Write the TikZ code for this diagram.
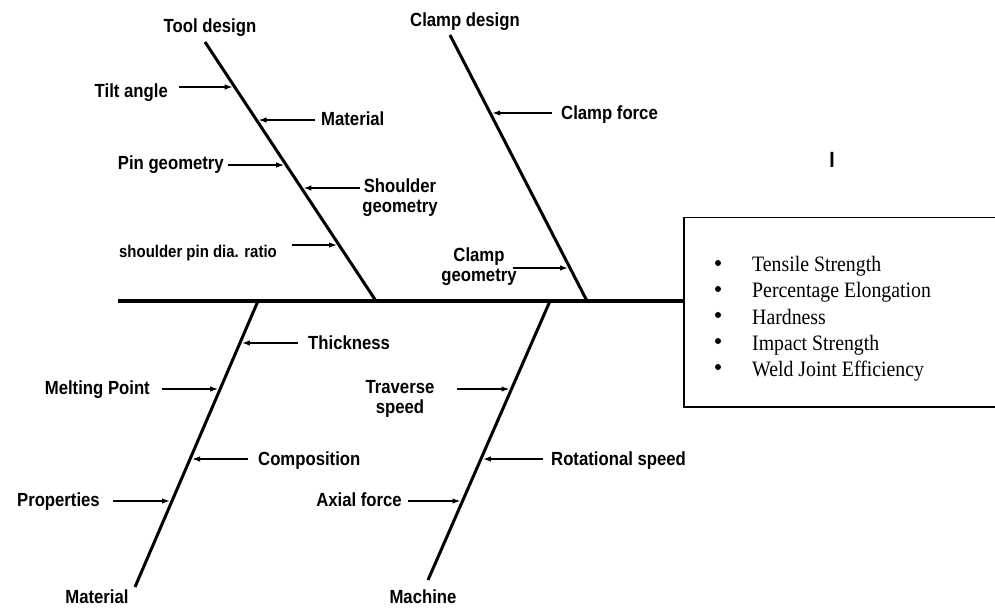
\documentclass[tikz,border=0pt]{standalone}
\usepackage{fontspec}
\usetikzlibrary{arrows.meta}
\newfontfamily\lblfam[FakeStretch=0.88]{Liberation Sans}
\newfontfamily\boxfam[FakeStretch=0.9]{Liberation Serif}
\newcommand\lblfont{\lblfam\bfseries\fontsize{19}{20}\selectfont}
\newcommand\lblsmall{\lblfam\bfseries\fontsize{17}{18}\selectfont}
\newcommand\boxfont{\boxfam\fontsize{22}{26}\selectfont}
\tikzset{
  lbl/.style={font=\lblfont, inner sep=0pt, align=center},
  bone/.style={line width=3pt},
  spine/.style={line width=4pt},
  arr/.style={line width=1.4pt, -{Latex[length=8pt,width=5.5pt]}, shorten >=2pt},
}
\begin{document}
\begin{tikzpicture}[x=1pt,y=-1pt]
\useasboundingbox (0,0) rectangle (995,609);
\clip (0,0) rectangle (995,609);
\fill[white] (0,0) rectangle (995,609);
% bones
\coordinate (T1) at (205,42);  \coordinate (T0) at (376,301);
\coordinate (C1) at (450,35);  \coordinate (C0) at (587,301);
\coordinate (M0) at (258,301); \coordinate (M1) at (135,587);
\coordinate (N0) at (550,301); \coordinate (N1) at (428,580);
\coordinate (tail) at (118,301);
% effect box
\node[draw, line width=1.5pt, minimum width=340pt, minimum height=189pt, anchor=north west, inner sep=0pt] (box) at (683,217) {};
\foreach \t [count=\i] in {Tensile Strength, Percentage Elongation, Hardness, Impact Strength, Weld Joint Efficiency}{
  \node[font=\boxfont, anchor=base west, inner sep=0pt] (item\i) at (752,246+26*\i) {\t};
  \node[circle, fill, inner sep=0pt, minimum size=6pt] (bul\i) at (718,237+26*\i) {};
}
\draw[spine] (tail) -- (tail -| box.west);
\draw[bone] (T1) -- (T0);
\draw[bone] (C1) -- (C0);
\draw[bone] (M0) -- (M1);
\draw[bone] (N0) -- (N1);
% category labels
\node[lbl, anchor=base] (tool) at (210,33) {Tool design};
\node[lbl, anchor=base] (clamp) at (465,27) {Clamp design};
\node[lbl, anchor=base] (bmat) at (97,603) {Material};
\node[lbl, anchor=base] (mach) at (423,603) {Machine};
\node[font=\lblfam\bfseries\fontsize{22}{24}\selectfont, anchor=base, inner sep=0pt] (imark) at (832,168) {I};
% cause labels
\node[lbl, anchor=base east] (tilt) at (168,98) {Tilt angle};
\node[lbl, anchor=base west] (tmat) at (321,126) {Material};
\node[lbl, anchor=base east] (pin) at (224,170) {Pin geometry};
\node[lbl, anchor=north] (sg) at (400,179) {Shoulder\\geometry};
\node[lbl, font=\lblsmall, anchor=base east] (spd) at (277,258) {shoulder pin dia. ratio};
\node[lbl, anchor=base west] (cf) at (561,120) {Clamp force};
\node[lbl, anchor=north] (cg) at (479,248) {Clamp\\geometry};
\node[lbl, anchor=base west] (thick) at (308,349) {Thickness};
\node[lbl, anchor=base east] (melt) at (150,394) {Melting Point};
\node[lbl, anchor=base west] (comp) at (258,465) {Composition};
\node[lbl, anchor=base east] (prop) at (100,506) {Properties};
\node[lbl, anchor=north] (trav) at (400,380) {Traverse\\speed};
\node[lbl, anchor=base west] (rot) at (551,465) {Rotational speed};
\node[lbl, anchor=base east] (axial) at (402,506) {Axial force};
% arrow coordinates
\coordinate (tiltS) at (179,87);   \coordinate (tiltE) at (234.7,87);
\coordinate (tmatS) at (315,120);  \coordinate (tmatE) at (256.5,120);
\coordinate (pinS) at (228,165);   \coordinate (pinE) at (286.2,165);
\coordinate (sgS) at (360,188);    \coordinate (sgE) at (301.4,188);
\coordinate (spdS) at (292,245);   \coordinate (spdE) at (339.0,245);
\coordinate (cfS) at (552,113);    \coordinate (cfE) at (490.2,113);
\coordinate (cgS) at (513,268);    \coordinate (cgE) at (570.0,268);
\coordinate (thickS) at (298,343); \coordinate (thickE) at (239.9,343);
\coordinate (meltS) at (162,389);  \coordinate (meltE) at (220.2,389);
\coordinate (compS) at (248,459);  \coordinate (compE) at (190.0,459);
\coordinate (propS) at (113,501);  \coordinate (propE) at (172.0,501);
\coordinate (travS) at (457,389);  \coordinate (travE) at (511.5,389);
\coordinate (rotS) at (543,459);   \coordinate (rotE) at (480.9,459);
\coordinate (axialS) at (408,501); \coordinate (axialE) at (462.5,501);
\foreach \a in {tilt,tmat,pin,sg,spd,cf,cg,thick,melt,comp,prop,trav,rot,axial}{
  \draw[arr] (\a S) -- (\a E);
}
\end{tikzpicture}
\end{document}
